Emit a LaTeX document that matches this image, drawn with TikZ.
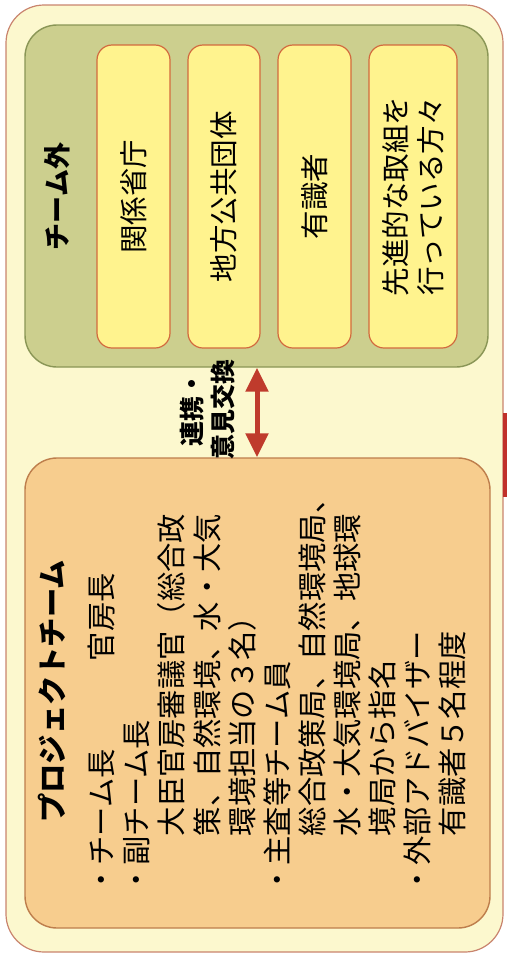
\documentclass[tikz,border=0pt]{standalone}
\usepackage{fontspec}
\setmainfont{Noto Sans CJK JP}
\usetikzlibrary{arrows.meta}
\definecolor{framefill}{HTML}{FCF8CE}
\definecolor{framedraw}{HTML}{C9846E}
\definecolor{outfill}{HTML}{CCCF8E}
\definecolor{outdraw}{HTML}{8A9656}
\definecolor{yfill}{HTML}{FFF38E}
\definecolor{ydraw}{HTML}{D26A3E}
\definecolor{teamfill}{HTML}{F7CD8E}
\definecolor{teamdraw}{HTML}{BE7E4C}
\definecolor{arrowred}{HTML}{BF3B2C}
\definecolor{tabred}{HTML}{C0302A}
\tikzset{
	ybox/.style={draw=ydraw, line width=1.2pt, fill=yfill, rounded corners=15pt, rotate=90, minimum width=303pt, inner sep=0pt, align=center, font=\fontsize{28.5}{35}\selectfont},
	bigbox/.style={line width=1.4pt, rounded corners=32pt, inner sep=0pt},
	vtext/.style={rotate=90, inner sep=0pt},
	linkarrow/.style={draw=arrowred, line width=5pt, {Triangle[width=22pt,length=24pt]}-{Triangle[width=22pt,length=24pt]}}
}

\begin{document}
\begin{tikzpicture}[x=1pt, y=-1pt]
		%%%%% START %%%%%
		\useasboundingbox (0,0) rectangle (507,956);
		
		\draw[fill=framefill, draw=framedraw, line width=1.2pt, rounded corners=38pt] (6,5) rectangle (503,952);
		\fill[tabred] (503,413) rectangle (507,497);
		
		% outside the team
		\node[bigbox, draw=outdraw, fill=outfill, minimum width=463pt, minimum height=342pt] (outside) at (256.5,196) {};
		\node[vtext, font=\fontsize{27}{30}\selectfont\bfseries] (outsidetitle) at (57,196.5) {チーム外};
		
		\node[ybox, minimum height=73pt] (ministries) at (133.5,196.5) {関係省庁};
		\node[ybox, minimum height=72pt] (localgov) at (224,196.5) {地方公共団体};
		\node[ybox, minimum height=73pt] (experts) at (314.5,196.5) {有識者};
		\node[ybox, minimum height=88pt] (pioneers) at (413,196.5) {先進的な取組を\\行っている方々};
		
		% project team
		\node[bigbox, draw=teamdraw, fill=teamfill, minimum width=465pt, minimum height=470pt] (team) at (257.5,693) {};
		\node[vtext, anchor=west, font=\fontsize{29.3}{32}\selectfont\bfseries] (teamtitle) at (52,823) {プロジェクトチーム};
		\node[vtext, anchor=north west, align=left, font=\fontsize{29.3}{35.1}\selectfont] (members) at (88,895) {・チーム長　　　官房長\\・副チーム長\\　　大臣官房審議官（総合政\\　　策、自然環境、水・大気\\　　環境担当の３名）\\・主査等チーム員\\　　総合政策局、自然環境局、\\　　水・大気環境局、地球環\\　　境局から指名\\・外部アドバイザー\\　　有識者５名程度};
		
		% link
		\coordinate (linkx) at (257,0);
		\draw[linkarrow] (outside.south -| linkx) -- (team.north -| linkx);
		\node[vtext, align=center, font=\fontsize{25}{31}\selectfont\bfseries] (linklabel) at (207.5,409) {連携・\\意見交換};
		%%%%% END %%%%%
\end{tikzpicture}
\end{document}
